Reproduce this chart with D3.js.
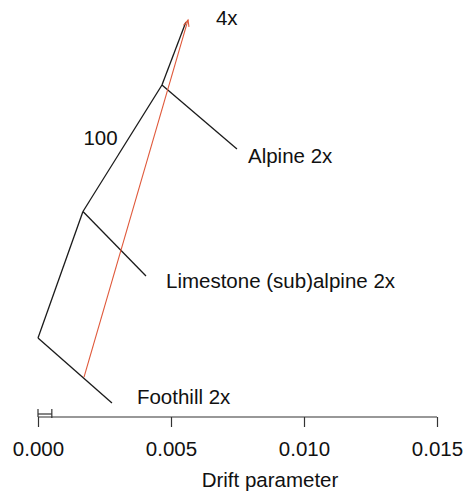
<!DOCTYPE html>
<html>
<head>
<meta charset="utf-8">
<script src="https://cdn.jsdelivr.net/npm/d3@7"></script>
<style>
  html, body { margin: 0; padding: 0; background: #fff; }
  text { font-family: "Liberation Sans", Arial, sans-serif; fill: #111; }
</style>
</head>
<body>
<svg id="chart" width="466" height="495"></svg>
<script>
// ---- data ----
const nodeNames = ["root", "Foothill 2x", "nodeA", "Limestone (sub)alpine 2x", "nodeB", "Alpine 2x", "4x"];
const nodeDrift = [0.0, 0.00278, 0.00169, 0.00406, 0.00466, 0.00748, 0.00556];
const nodeY     = [0.378, 0.25, 0.627, 0.50, 0.876, 0.75, 1.0];
const edgeParent = [0, 0, 2, 2, 4, 4];
const edgeChild  = [1, 2, 3, 4, 5, 6];
const leafIndex  = [1, 3, 5, 6];
const bootstrapLabel = "100";
const migrationFrom = [0.00173, 0.301];
const migrationTo   = [0.00564, 1.004];
const tickValues = [0.000, 0.005, 0.010, 0.015];
const tickLabels = ["0.000", "0.005", "0.010", "0.015"];
const scaleBarSE = 0.00052;
const xTitle = "Drift parameter";

// ---- layout ----
const svg = d3.select("#chart");
const x = d3.scaleLinear().domain([0, 0.015]).range([38, 437]);
const y = d3.scaleLinear().domain([0, 1]).range([530, 22]);
const fontSize = 20.5;

// tree edges
svg.append("g").selectAll("line").data(edgeParent.map((p, i) => [p, edgeChild[i]]))
  .join("line")
  .attr("x1", d => x(nodeDrift[d[0]])).attr("y1", d => y(nodeY[d[0]]))
  .attr("x2", d => x(nodeDrift[d[1]])).attr("y2", d => y(nodeY[d[1]]))
  .attr("stroke", "#1a1a1a").attr("stroke-width", 1.3);

// migration edge
const mx1 = x(migrationFrom[0]), my1 = y(migrationFrom[1]);
const mx2 = x(migrationTo[0]), my2 = y(migrationTo[1]);
const red = "#e0583a";
svg.append("line").attr("x1", mx1).attr("y1", my1).attr("x2", mx2).attr("y2", my2)
  .attr("stroke", red).attr("stroke-width", 1.1);
const ang = Math.atan2(my2 - my1, mx2 - mx1);
const ah = 7, aa = 0.42;
svg.append("path")
  .attr("d", `M${mx2 - ah*Math.cos(ang - aa)},${my2 - ah*Math.sin(ang - aa)} L${mx2},${my2} L${mx2 - ah*Math.cos(ang + aa)},${my2 - ah*Math.sin(ang + aa)}`)
  .attr("fill", "none").attr("stroke", red).attr("stroke-width", 1.1);

// leaf labels (offsets in pixels from leaf tip)
const labelOffsets = { "4x": [30, 3], "Alpine 2x": [11, 14], "Limestone (sub)alpine 2x": [20, 12], "Foothill 2x": [25, 1] };
svg.append("g").selectAll("text").data(leafIndex).join("text")
  .attr("x", i => x(nodeDrift[i]) + labelOffsets[nodeNames[i]][0])
  .attr("y", i => y(nodeY[i]) + labelOffsets[nodeNames[i]][1])
  .attr("font-size", fontSize)
  .text(i => nodeNames[i]);

// bootstrap label on root->nodeB path
svg.append("text")
  .attr("x", x(nodeDrift[2]) + 0.5).attr("y", y(nodeY[2]) - 66)
  .attr("font-size", fontSize).text(bootstrapLabel);

// x axis
const axisY = 417;
const axis = d3.axisBottom(x).tickValues(tickValues).tickFormat((d, i) => tickLabels[i]).tickSize(10).tickPadding(14);
const ag = svg.append("g").attr("transform", `translate(0,${axisY})`).call(axis);
ag.select(".domain").attr("d", `M${x(0)},0H${x(0.015)}`).attr("stroke", "#333").attr("stroke-width", 1.2);
ag.selectAll(".tick line").attr("stroke", "#333").attr("stroke-width", 1.2);
ag.selectAll(".tick text").attr("font-size", fontSize).attr("font-family", "Liberation Sans, Arial, sans-serif").attr("fill", "#111");

// scale bar (standard error)
const sb = svg.append("g").attr("stroke", "#333").attr("stroke-width", 1.2);
sb.append("line").attr("x1", x(0)).attr("x2", x(scaleBarSE)).attr("y1", axisY - 3).attr("y2", axisY - 3);
sb.append("line").attr("x1", x(0)).attr("x2", x(0)).attr("y1", axisY - 8).attr("y2", axisY);
sb.append("line").attr("x1", x(scaleBarSE)).attr("x2", x(scaleBarSE)).attr("y1", axisY - 8).attr("y2", axisY + 1);

// x title (centred on the plotting region, which extends beyond the axis)
svg.append("text").attr("x", 270).attr("y", 487)
  .attr("text-anchor", "middle").attr("font-size", fontSize).text(xTitle);
</script>
</body>
</html>
